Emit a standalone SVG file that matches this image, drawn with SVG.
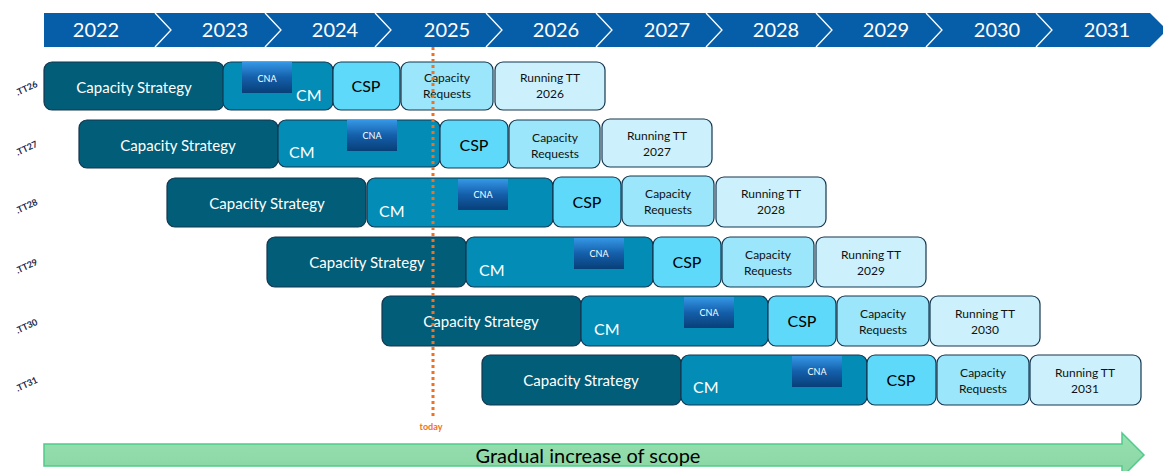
<svg xmlns="http://www.w3.org/2000/svg" width="1163" height="471" viewBox="0 0 1163 471">
<defs>
<linearGradient id="cnaG" x1="0" y1="0" x2="0" y2="1">
<stop offset="0" stop-color="#3597E6"/>
<stop offset="0.5" stop-color="#145FAA"/>
<stop offset="1" stop-color="#083F78"/>
</linearGradient>
<linearGradient id="arrG" x1="0" y1="0" x2="0" y2="1">
<stop offset="0" stop-color="#98E0B0"/>
<stop offset="1" stop-color="#88D6A2"/>
</linearGradient>
</defs>
<style>
text{font-family:Lato,"Liberation Sans",sans-serif}
.yr{fill:#fff;font-size:20px;text-anchor:middle}
.chev{fill:none;stroke:#fff;stroke-width:1.3}
.box{stroke:#15364F;stroke-width:1.2}
.cs{fill:#015D78}
.cm{fill:#038CB5}
.csp{fill:#5FD9F9}
.cr{fill:#9BE6FA}
.rt{fill:#CCF1FD}
.cna{fill:url(#cnaG)}
.tw{fill:#fff;font-size:15px;text-anchor:middle}
.tcm{fill:#fff;font-size:16px}
.tcsp{fill:#000;font-size:16px;text-anchor:middle}
.ts{fill:#111;font-size:12px;text-anchor:middle}
.tcna{fill:#fff;font-size:9px;text-anchor:middle}
.lbl{fill:#1C2A4A;font-size:9px;font-weight:bold;text-anchor:middle}
</style>
<g id="banner">
<polygon points="44,13 1150,13 1167,30 1150,47 44,47" fill="#075EA8"/>
<polyline class="chev" points="155,13 171,30 155,47"/>
<polyline class="chev" points="265,13 281,30 265,47"/>
<polyline class="chev" points="375,13 391,30 375,47"/>
<polyline class="chev" points="486,13 502,30 486,47"/>
<polyline class="chev" points="596,13 612,30 596,47"/>
<polyline class="chev" points="706,13 722,30 706,47"/>
<polyline class="chev" points="816,13 832,30 816,47"/>
<polyline class="chev" points="926,13 942,30 926,47"/>
<polyline class="chev" points="1036,13 1052,30 1036,47"/>
<text class="yr" x="96" y="37">2022</text>
<text class="yr" x="225" y="37">2023</text>
<text class="yr" x="335" y="37">2024</text>
<text class="yr" x="447" y="37">2025</text>
<text class="yr" x="556" y="37">2026</text>
<text class="yr" x="667" y="37">2027</text>
<text class="yr" x="776" y="37">2028</text>
<text class="yr" x="886" y="37">2029</text>
<text class="yr" x="997" y="37">2030</text>
<text class="yr" x="1107" y="37">2031</text>
</g>

<g id="row-TT26">
<text class="lbl" transform="translate(28,91) rotate(-25)">.TT26</text>
<rect class="box cs" x="44" y="62" width="180" height="48" rx="8"/>
<text class="tw" x="134" y="93">Capacity Strategy</text>
<rect class="box cm" x="223" y="62" width="110" height="48" rx="8"/>
<rect class="cna" x="242" y="62" width="50" height="31"/>
<text class="tcna" x="267" y="82">CNA</text>
<text class="tcm" x="296" y="101">CM</text>
<rect class="box csp" x="333" y="62" width="67" height="48" rx="8"/>
<text class="tcsp" x="366" y="92">CSP</text>
<rect class="box cr" x="401" y="62" width="92" height="48" rx="8"/>
<text class="ts" x="447" y="82">Capacity</text>
<text class="ts" x="447" y="98">Requests</text>
<rect class="box rt" x="495" y="62" width="110" height="48" rx="8"/>
<text class="ts" x="550" y="82">Running TT</text>
<text class="ts" x="550" y="98">2026</text>
</g>

<g id="row-TT27">
<text class="lbl" transform="translate(28,151) rotate(-25)">.TT27</text>
<rect class="box cs" x="79" y="120" width="199" height="48" rx="8"/>
<text class="tw" x="178" y="151">Capacity Strategy</text>
<rect class="box cm" x="278" y="120" width="162" height="47" rx="8"/>
<rect class="cna" x="347" y="120" width="50" height="31"/>
<text class="tcna" x="372" y="139">CNA</text>
<text class="tcm" x="289" y="158">CM</text>
<rect class="box csp" x="440" y="120" width="68" height="48" rx="8"/>
<text class="tcsp" x="474" y="151">CSP</text>
<rect class="box cr" x="509" y="120" width="91" height="48" rx="8"/>
<text class="ts" x="555" y="142">Capacity</text>
<text class="ts" x="555" y="158">Requests</text>
<rect class="box rt" x="602" y="119" width="110" height="48" rx="8"/>
<text class="ts" x="657" y="140">Running TT</text>
<text class="ts" x="657" y="156">2027</text>
</g>

<g id="row-TT28">
<text class="lbl" transform="translate(28,209) rotate(-25)">.TT28</text>
<rect class="box cs" x="167" y="178" width="199" height="49" rx="8"/>
<text class="tw" x="267" y="209">Capacity Strategy</text>
<rect class="box cm" x="367" y="178" width="186" height="49" rx="8"/>
<rect class="cna" x="458" y="179" width="50" height="31"/>
<text class="tcna" x="483" y="198">CNA</text>
<text class="tcm" x="379" y="217">CM</text>
<rect class="box csp" x="553" y="177" width="68" height="50" rx="8"/>
<text class="tcsp" x="587" y="208">CSP</text>
<rect class="box cr" x="622" y="176" width="92" height="50" rx="8"/>
<text class="ts" x="668" y="198">Capacity</text>
<text class="ts" x="668" y="214">Requests</text>
<rect class="box rt" x="716" y="177" width="110" height="50" rx="8"/>
<text class="ts" x="771" y="198">Running TT</text>
<text class="ts" x="771" y="214">2028</text>
</g>

<g id="row-TT29">
<text class="lbl" transform="translate(28,269) rotate(-25)">.TT29</text>
<rect class="box cs" x="267" y="237" width="199" height="50" rx="8"/>
<text class="tw" x="367" y="268">Capacity Strategy</text>
<rect class="box cm" x="466" y="237" width="187" height="50" rx="8"/>
<rect class="cna" x="574" y="238" width="50" height="31"/>
<text class="tcna" x="599" y="257">CNA</text>
<text class="tcm" x="479" y="276">CM</text>
<rect class="box csp" x="653" y="237" width="68" height="50" rx="8"/>
<text class="tcsp" x="687" y="268">CSP</text>
<rect class="box cr" x="722" y="237" width="92" height="50" rx="8"/>
<text class="ts" x="768" y="259">Capacity</text>
<text class="ts" x="768" y="275">Requests</text>
<rect class="box rt" x="816" y="237" width="110" height="50" rx="8"/>
<text class="ts" x="871" y="259">Running TT</text>
<text class="ts" x="871" y="275">2029</text>
</g>

<g id="row-TT30">
<text class="lbl" transform="translate(28,329) rotate(-25)">.TT30</text>
<rect class="box cs" x="382" y="296" width="199" height="50" rx="8"/>
<text class="tw" x="481" y="327">Capacity Strategy</text>
<rect class="box cm" x="581" y="296" width="187" height="50" rx="8"/>
<rect class="cna" x="684" y="297" width="50" height="31"/>
<text class="tcna" x="709" y="316">CNA</text>
<text class="tcm" x="594" y="335">CM</text>
<rect class="box csp" x="768" y="296" width="68" height="50" rx="8"/>
<text class="tcsp" x="802" y="327">CSP</text>
<rect class="box cr" x="837" y="296" width="92" height="50" rx="8"/>
<text class="ts" x="883" y="318">Capacity</text>
<text class="ts" x="883" y="334">Requests</text>
<rect class="box rt" x="930" y="296" width="110" height="50" rx="8"/>
<text class="ts" x="985" y="318">Running TT</text>
<text class="ts" x="985" y="334">2030</text>
</g>

<g id="row-TT31">
<text class="lbl" transform="translate(28,387) rotate(-25)">.TT31</text>
<rect class="box cs" x="482" y="355" width="199" height="50" rx="8"/>
<text class="tw" x="581" y="386">Capacity Strategy</text>
<rect class="box cm" x="681" y="355" width="186" height="50" rx="8"/>
<rect class="cna" x="792" y="356" width="50" height="31"/>
<text class="tcna" x="817" y="375">CNA</text>
<text class="tcm" x="693" y="393">CM</text>
<rect class="box csp" x="867" y="355" width="69" height="50" rx="8"/>
<text class="tcsp" x="901" y="386">CSP</text>
<rect class="box cr" x="937" y="355" width="92" height="50" rx="8"/>
<text class="ts" x="983" y="377">Capacity</text>
<text class="ts" x="983" y="393">Requests</text>
<rect class="box rt" x="1030" y="355" width="111" height="50" rx="8"/>
<text class="ts" x="1085" y="377">Running TT</text>
<text class="ts" x="1085" y="393">2031</text>
</g>

<g id="today">
<line x1="433" y1="47" x2="433" y2="418" stroke="#F2701E" stroke-width="3" stroke-dasharray="3,3"/>
<text x="431" y="430" fill="#F2701E" font-size="9" font-weight="bold" text-anchor="middle">today</text>
</g>

<g id="scope-arrow">
<polygon points="44,444 1122,444 1122,433 1144,455 1122,477 1122,466 44,466" fill="url(#arrG)" stroke="#4FCB8B" stroke-width="1.5"/>
<text x="588" y="463" fill="#000" font-size="20" text-anchor="middle">Gradual increase of scope</text>
</g>
</svg>
